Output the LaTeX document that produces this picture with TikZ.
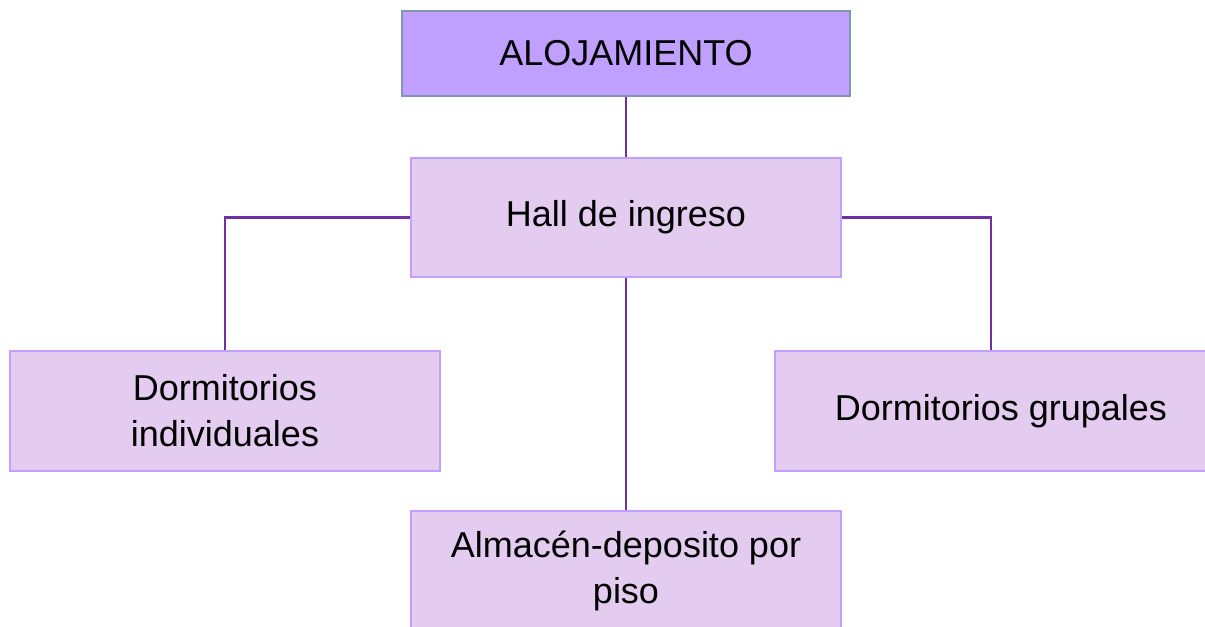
\documentclass[tikz,border=0pt]{standalone}
\usepackage{fontspec}
\setmainfont{Liberation Sans}
\usepackage{tikz}

\definecolor{boxtop}{RGB}{191,160,255}
\definecolor{boxtopline}{RGB}{128,150,176}
\definecolor{boxlight}{RGB}{228,204,240}
\definecolor{boxlightline}{RGB}{192,160,255}
\definecolor{linkcol}{RGB}{112,48,160}

\tikzset{
  topbox/.style={draw=boxtopline, fill=boxtop, line width=1.5pt, minimum width=336pt, minimum height=63.75pt, inner sep=0pt, font=\fontsize{27}{34.5}\selectfont, align=center},
  subbox/.style={draw=boxlightline, fill=boxlight, line width=1.5pt, minimum width=322.5pt, minimum height=89.5pt, inner sep=0pt, font=\fontsize{27}{34.5}\selectfont, align=center},
  link/.style={draw=linkcol, line width=1.6pt}
}

\begin{document}
\begin{tikzpicture}[x=0.75pt,y=0.75pt,yscale=-1,xscale=1]
\useasboundingbox (0,0) rectangle (1205,627);
\clip (0,0) rectangle (1205,627);

% Boxes
\node [topbox] (aloj) at (626,53.5) {ALOJAMIENTO};
\node [subbox] (hall) at (626,217.5) {Hall de ingreso};
\node [subbox] (indiv) at (225,411) {Dormitorios\\individuales};
\node [subbox, minimum width=339pt] (grupal) at (1001,411) {Dormitorios grupales};
\node [subbox] (almacen) at (626,571) {Almac\'en-deposito por\\piso};

% Connectors
\draw [link] (aloj) -- (hall);
\draw [link] (hall.west) -| (indiv.north);
\draw [link] (hall.east) -| ([xshift=-7.5pt]grupal.north);
\draw [link] (hall) -- (almacen);

\end{tikzpicture}
\end{document}
